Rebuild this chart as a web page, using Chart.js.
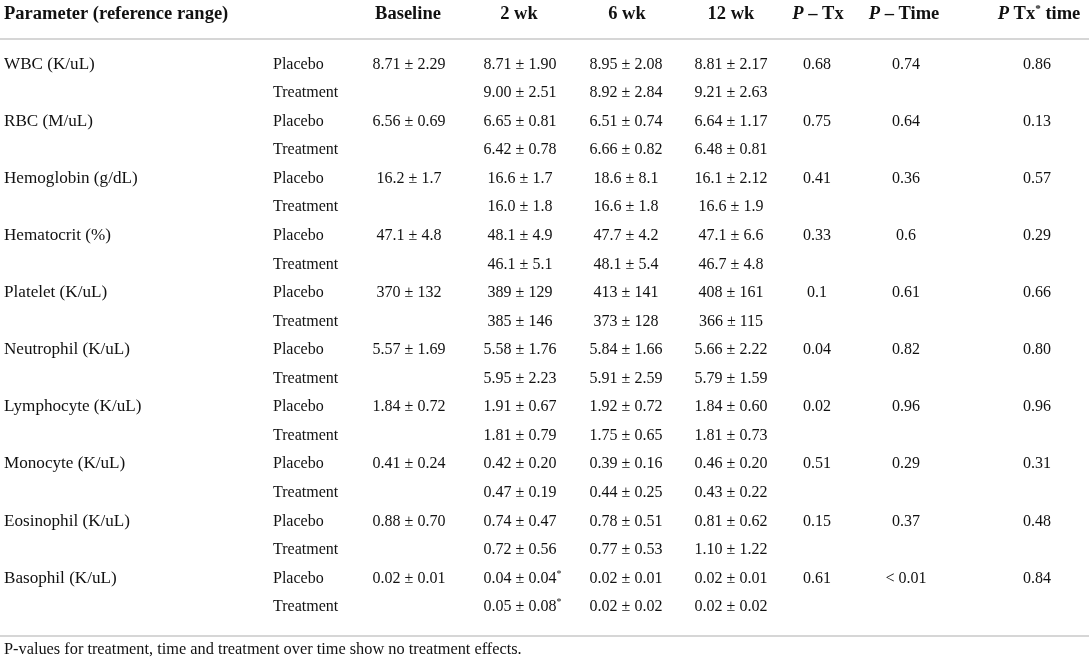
<!DOCTYPE html>
<html>
<head>
<meta charset="utf-8">
<script src="https://cdn.jsdelivr.net/npm/chart.js@4"></script>
<style>
  html, body { margin: 0; padding: 0; background: #fff; }
  #wrap { width: 1089px; height: 658px; position: relative; }
</style>
</head>
<body>
<div id="wrap"><canvas id="tabela"></canvas></div>
<script>
// dados da tabela
const params = ['WBC (K/uL)', 'RBC (M/uL)', 'Hemoglobin (g/dL)', 'Hematocrit (%)', 'Platelet (K/uL)',
  'Neutrophil (K/uL)', 'Lymphocyte (K/uL)', 'Monocyte (K/uL)', 'Eosinophil (K/uL)', 'Basophil (K/uL)'];
const groups = ['Placebo', 'Treatment'];
const headers = ['Parameter (reference range)', 'Baseline', '2 wk', '6 wk', '12 wk'];

const baseline = ['8.71 ± 2.29', '6.56 ± 0.69', '16.2 ± 1.7', '47.1 ± 4.8', '370 ± 132',
  '5.57 ± 1.69', '1.84 ± 0.72', '0.41 ± 0.24', '0.88 ± 0.70', '0.02 ± 0.01'];
const placebo2wk = ['8.71 ± 1.90', '6.65 ± 0.81', '16.6 ± 1.7', '48.1 ± 4.9', '389 ± 129',
  '5.58 ± 1.76', '1.91 ± 0.67', '0.42 ± 0.20', '0.74 ± 0.47', '0.04 ± 0.04*'];
const treat2wk = ['9.00 ± 2.51', '6.42 ± 0.78', '16.0 ± 1.8', '46.1 ± 5.1', '385 ± 146',
  '5.95 ± 2.23', '1.81 ± 0.79', '0.47 ± 0.19', '0.72 ± 0.56', '0.05 ± 0.08*'];
const placebo6wk = ['8.95 ± 2.08', '6.51 ± 0.74', '18.6 ± 8.1', '47.7 ± 4.2', '413 ± 141',
  '5.84 ± 1.66', '1.92 ± 0.72', '0.39 ± 0.16', '0.78 ± 0.51', '0.02 ± 0.01'];
const treat6wk = ['8.92 ± 2.84', '6.66 ± 0.82', '16.6 ± 1.8', '48.1 ± 5.4', '373 ± 128',
  '5.91 ± 2.59', '1.75 ± 0.65', '0.44 ± 0.25', '0.77 ± 0.53', '0.02 ± 0.02'];
const placebo12wk = ['8.81 ± 2.17', '6.64 ± 1.17', '16.1 ± 2.12', '47.1 ± 6.6', '408 ± 161',
  '5.66 ± 2.22', '1.84 ± 0.60', '0.46 ± 0.20', '0.81 ± 0.62', '0.02 ± 0.01'];
const treat12wk = ['9.21 ± 2.63', '6.48 ± 0.81', '16.6 ± 1.9', '46.7 ± 4.8', '366 ± 115',
  '5.79 ± 1.59', '1.81 ± 0.73', '0.43 ± 0.22', '1.10 ± 1.22', '0.02 ± 0.02'];
const pTx = ['0.68', '0.75', '0.41', '0.33', '0.1', '0.04', '0.02', '0.51', '0.15', '0.61'];
const pTime = ['0.74', '0.64', '0.36', '0.6', '0.61', '0.82', '0.96', '0.29', '0.37', '< 0.01'];
const pTxTime = ['0.86', '0.13', '0.57', '0.29', '0.66', '0.80', '0.96', '0.31', '0.48', '0.84'];
const footnote = 'P-values for treatment, time and treatment over time show no treatment effects.';

// posição das colunas (unidades do eixo x, 0..1089)
const colLeft = [4, 273];
const colCenter = [409, 520, 626, 731, 817, 906, 1037];
const headCenter = [408, 519, 627, 731, 818, 904, 1039];

const SERIF = '"Liberation Serif", "Times New Roman", serif';
const INK = '#111';

// monta as linhas da tabela
const rowKeys = [];
const rows = [];
params.forEach((p, i) => {
  groups.forEach((g, k) => {
    rowKeys.push(p + ' / ' + g);
    if (k === 0) {
      rows.push([p, g, baseline[i], placebo2wk[i], placebo6wk[i], placebo12wk[i], pTx[i], pTime[i], pTxTime[i]]);
    } else {
      rows.push(['', g, '', treat2wk[i], treat6wk[i], treat12wk[i], '', '', '']);
    }
  });
});

// desenha uma sequência de trechos com estilos diferentes
function drawRuns(ctx, runs, cx, y, align, sx) {
  sx = sx || 1;
  let total = 0;
  runs.forEach(r => { ctx.font = r.font; total += ctx.measureText(r.text).width; });
  let x = align === 'center' ? cx - total * sx / 2 : cx;
  ctx.save();
  ctx.translate(x, y);
  ctx.scale(sx, 1);
  let off = 0;
  runs.forEach(r => {
    ctx.font = r.font;
    ctx.fillText(r.text, off, r.dy || 0);
    off += ctx.measureText(r.text).width;
  });
  ctx.restore();
}

function cellRuns(text, size) {
  const body = `${size}px ${SERIF}`;
  if (text.endsWith('*')) {
    return [{ text: text.slice(0, -1), font: body }, { text: '*', font: `${size * 0.62}px ${SERIF}`, dy: -size * 0.38 }];
  }
  return [{ text, font: body }];
}

const tablePlugin = {
  id: 'tableText',
  afterDraw(chart) {
    const { ctx, chartArea, scales: { x, y } } = chart;
    const bodySize = 16;
    const headSize = 18.5;
    ctx.save();
    ctx.fillStyle = INK;
    ctx.textAlign = 'left';
    ctx.textBaseline = 'alphabetic';

    // cabeçalho
    const hy = chartArea.top - 30;
    const b = `bold ${headSize}px ${SERIF}`;
    const bi = `italic bold ${headSize}px ${SERIF}`;
    const sup = `bold ${headSize * 0.6}px ${SERIF}`;
    drawRuns(ctx, [{ text: headers[0], font: b }], x.getPixelForValue(colLeft[0]), hy, 'left');
    for (let c = 1; c < headers.length; c++) {
      drawRuns(ctx, [{ text: headers[c], font: b }], x.getPixelForValue(headCenter[c - 1]), hy, 'center');
    }
    drawRuns(ctx, [{ text: 'P', font: bi }, { text: ' – Tx', font: b }], x.getPixelForValue(headCenter[4]), hy, 'center');
    drawRuns(ctx, [{ text: 'P', font: bi }, { text: ' – Time', font: b }], x.getPixelForValue(headCenter[5]), hy, 'center');
    drawRuns(ctx, [{ text: 'P', font: bi }, { text: ' Tx', font: b }, { text: '*', font: sup, dy: -headSize * 0.4 },
      { text: ' time', font: b }], x.getPixelForValue(headCenter[6]), hy, 'center');

    // linhas horizontais
    ctx.strokeStyle = '#c9c9c9';
    ctx.lineWidth = 1.6;
    [chartArea.top - 10, chartArea.bottom + 16].forEach(ly => {
      ctx.beginPath();
      ctx.moveTo(chartArea.left, ly);
      ctx.lineTo(chartArea.right, ly);
      ctx.stroke();
    });

    // células
    rows.forEach((row, r) => {
      const ry = y.getPixelForValue(r) + bodySize * 0.34;
      row.forEach((cell, c) => {
        if (!cell) return;
        if (c === 0) {
          drawRuns(ctx, cellRuns(cell, bodySize), x.getPixelForValue(colLeft[0]), ry, 'left', 1.07);
        } else if (c === 1) {
          drawRuns(ctx, cellRuns(cell, bodySize), x.getPixelForValue(colLeft[1]), ry, 'left');
        } else {
          const runs = cellRuns(cell, bodySize);
          // o asterisco fica fora da centralização
          ctx.font = runs[0].font;
          const w = ctx.measureText(runs[0].text).width;
          drawRuns(ctx, runs, x.getPixelForValue(colCenter[c - 2]) - w / 2, ry, 'left');
        }
      });
    });

    // nota de rodapé
    drawRuns(ctx, [{ text: footnote, font: `16px ${SERIF}` }], x.getPixelForValue(colLeft[0]), chartArea.bottom + 34, 'left', 1.02);
    ctx.restore();
  }
};

new Chart(document.getElementById('tabela'), {
  type: 'scatter',
  data: { datasets: [] },
  options: {
    responsive: true,
    maintainAspectRatio: false,
    animation: false,
    layout: { padding: { top: 49, bottom: 38, left: 0, right: 0 } },
    plugins: { legend: { display: false }, tooltip: { enabled: false } },
    scales: {
      x: { type: 'linear', min: 0, max: 1089, display: false },
      y: { type: 'category', labels: rowKeys, offset: true, display: false }
    }
  },
  plugins: [tablePlugin]
});
</script>
</body>
</html>
